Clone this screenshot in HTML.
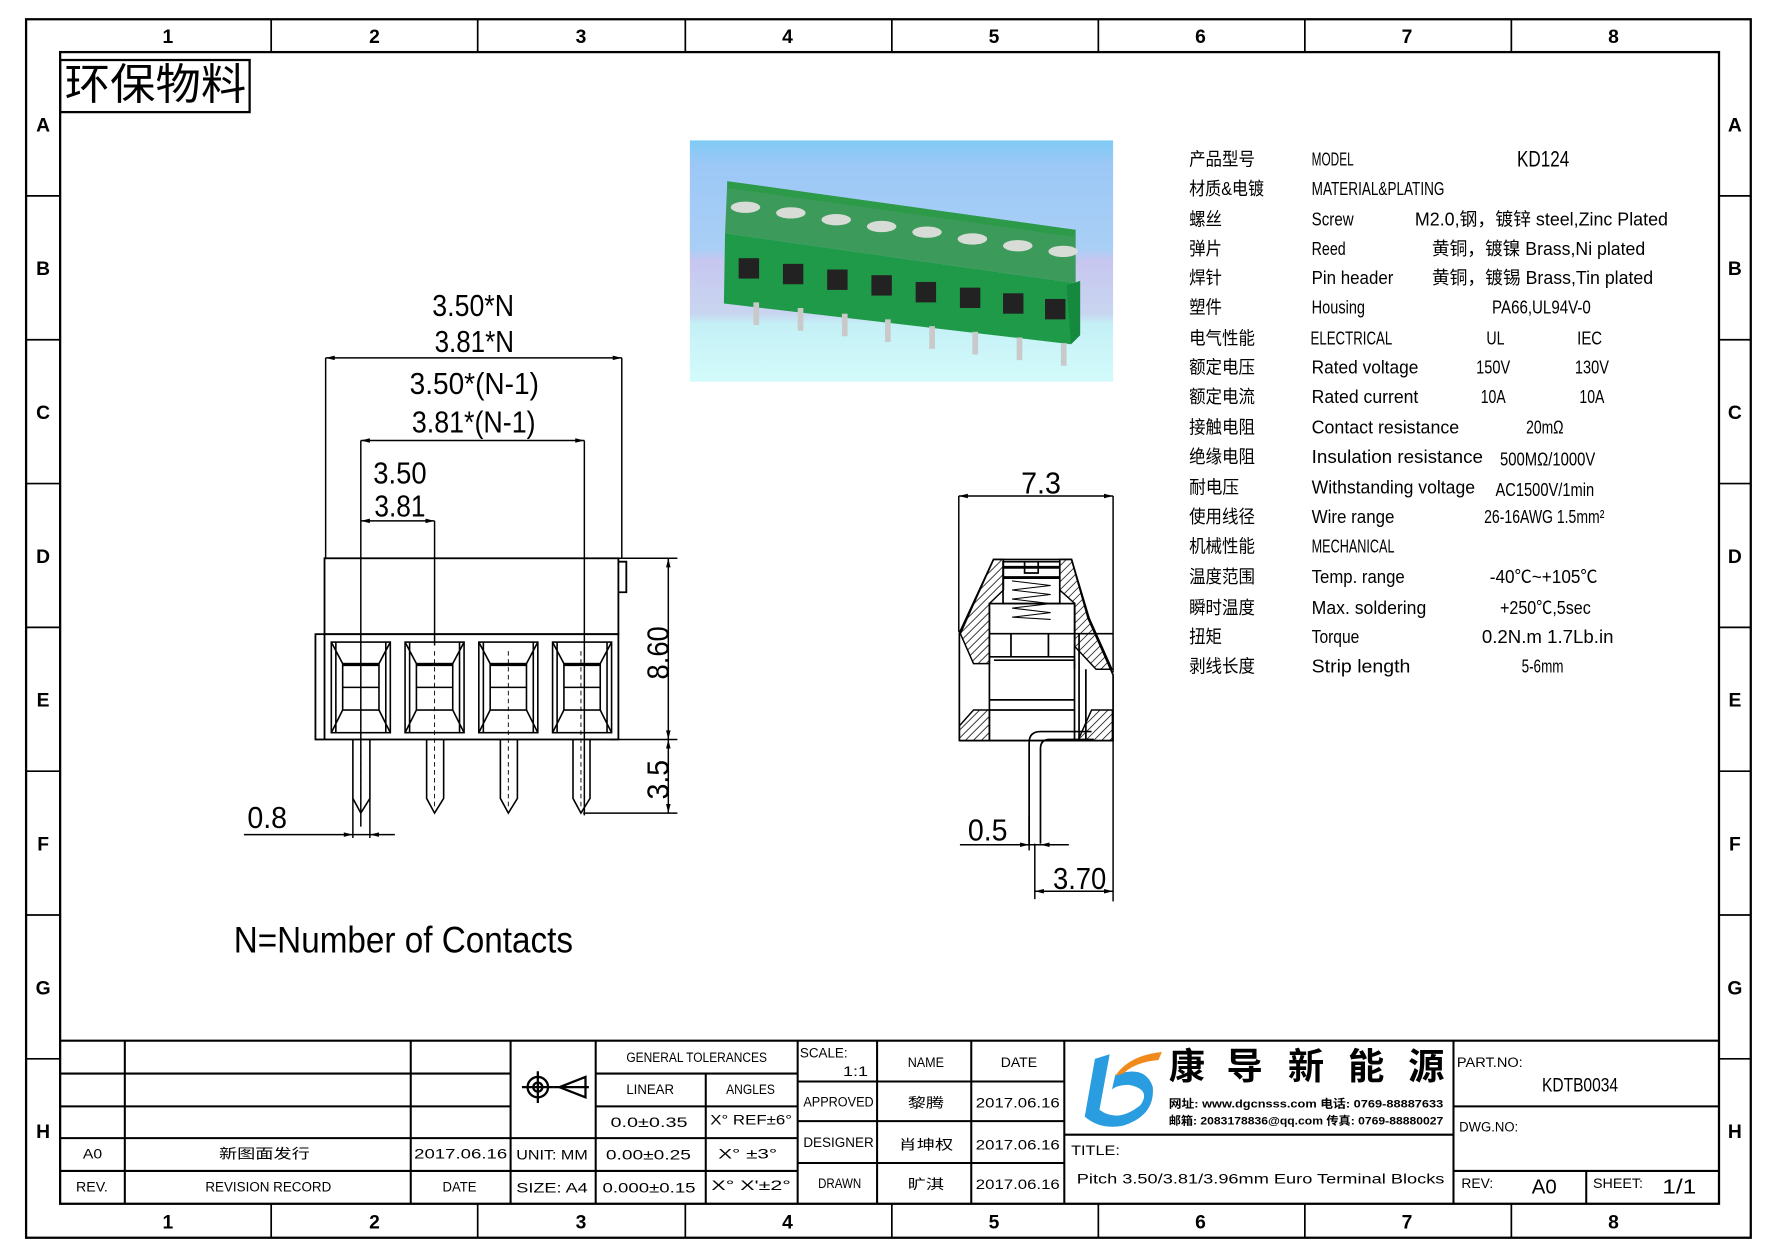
<!DOCTYPE html>
<html><head><meta charset="utf-8"><style>
html,body{margin:0;padding:0;background:#fff;}
svg{display:block;}
text{font-family:"Liberation Sans","Noto Sans CJK SC",sans-serif;fill:#000;}
.c{font-family:"Liberation Serif","Noto Sans CJK SC",serif;}
.g{font-weight:bold;font-size:17px;text-anchor:middle;}
</style></head><body>
<svg width="1778" height="1257" viewBox="0 0 1567 1110" preserveAspectRatio="none" xmlns="http://www.w3.org/2000/svg">
<defs>
<pattern id="h" width="5" height="5" patternUnits="userSpaceOnUse" patternTransform="rotate(45)">
<line x1="0" y1="0" x2="0" y2="5" stroke="#000" stroke-width="1.3"/></pattern>
<linearGradient id="bg" x1="0" y1="0" x2="0" y2="1">
<stop offset="0" stop-color="#7fcaf5"/><stop offset="0.1" stop-color="#9cc8f6"/><stop offset="0.45" stop-color="#a9cff5"/>
<stop offset="0.5" stop-color="#c7c6f0"/><stop offset="0.72" stop-color="#c9d6f0"/><stop offset="0.76" stop-color="#c4f0f6"/><stop offset="1" stop-color="#d3fbfb"/></linearGradient>
</defs>
<rect width="1567" height="1110" fill="#fff"/>
<rect x="23" y="17" width="1520" height="1076" fill="none" stroke="#000" stroke-width="2"/>
<rect x="53" y="46" width="1462" height="1017" fill="none" stroke="#000" stroke-width="2"/>
<g stroke="#000" stroke-width="1.5">
<line x1="239" y1="17" x2="239" y2="46"/><line x1="421" y1="17" x2="421" y2="46"/><line x1="604" y1="17" x2="604" y2="46"/><line x1="786" y1="17" x2="786" y2="46"/><line x1="968" y1="17" x2="968" y2="46"/><line x1="1150" y1="17" x2="1150" y2="46"/><line x1="1332" y1="17" x2="1332" y2="46"/>
<line x1="239" y1="1063" x2="239" y2="1093"/><line x1="421" y1="1063" x2="421" y2="1093"/><line x1="604" y1="1063" x2="604" y2="1093"/><line x1="786" y1="1063" x2="786" y2="1093"/><line x1="968" y1="1063" x2="968" y2="1093"/><line x1="1150" y1="1063" x2="1150" y2="1093"/><line x1="1332" y1="1063" x2="1332" y2="1093"/>
<path d="M23 173H53M23 300H53M23 427H53M23 554H53M23 681H53M23 808H53M23 935H53M1515 173H1543M1515 300H1543M1515 427H1543M1515 554H1543M1515 681H1543M1515 808H1543M1515 935H1543"/>
</g>
<g class="g">
<text x="148" y="38">1</text><text x="330" y="38">2</text><text x="512" y="38">3</text><text x="694" y="38">4</text><text x="876" y="38">5</text><text x="1058" y="38">6</text><text x="1240" y="38">7</text><text x="1422" y="38">8</text>
<text x="148" y="1085">1</text><text x="330" y="1085">2</text><text x="512" y="1085">3</text><text x="694" y="1085">4</text><text x="876" y="1085">5</text><text x="1058" y="1085">6</text><text x="1240" y="1085">7</text><text x="1422" y="1085">8</text>
<text x="38" y="116">A</text><text x="38" y="243">B</text><text x="38" y="370">C</text><text x="38" y="497">D</text><text x="38" y="624">E</text><text x="38" y="751">F</text><text x="38" y="878">G</text><text x="38" y="1005">H</text>
<text x="1529" y="116">A</text><text x="1529" y="243">B</text><text x="1529" y="370">C</text><text x="1529" y="497">D</text><text x="1529" y="624">E</text><text x="1529" y="751">F</text><text x="1529" y="878">G</text><text x="1529" y="1005">H</text>
</g>
<rect x="53" y="53" width="167" height="46" fill="none" stroke="#000" stroke-width="2"/>
<text x="57" y="88" font-size="38" textLength="160" lengthAdjust="spacingAndGlyphs" class="c">环保物料</text>

<rect x="608" y="124" width="373" height="213" fill="url(#bg)"/>
<polygon points="641,160 948,203 948,250 639,206" fill="#3c9a5a"/>
<polygon points="641,160 948,203 946,209 641,166" fill="#2c9a48"/>
<polygon points="639,206 948,250 944,304 638,268" fill="#1f9a48"/>
<polygon points="940,252 952,248 952,296 944,304" fill="#158a3e"/>
<g fill="#d8dcd6">
<ellipse cx="657" cy="183" rx="13" ry="5"/><ellipse cx="697" cy="188" rx="13" ry="5"/><ellipse cx="737" cy="194" rx="13" ry="5"/><ellipse cx="777" cy="200" rx="13" ry="5"/><ellipse cx="817" cy="205" rx="13" ry="5"/><ellipse cx="857" cy="211" rx="13" ry="5"/><ellipse cx="897" cy="217" rx="13" ry="5"/><ellipse cx="937" cy="222" rx="13" ry="5"/>
</g>
<g fill="#222">
<rect x="651" y="228" width="18" height="18"/><rect x="690" y="233" width="18" height="18"/><rect x="729" y="238" width="18" height="18"/><rect x="768" y="243" width="18" height="18"/><rect x="807" y="249" width="18" height="18"/><rect x="846" y="254" width="18" height="18"/><rect x="884" y="259" width="18" height="18"/><rect x="921" y="264" width="18" height="18"/>
</g>
<g fill="#c9c9c9">
<rect x="703" y="272" width="5" height="20"/><rect x="742" y="277" width="5" height="20"/><rect x="780" y="282" width="5" height="20"/><rect x="819" y="288" width="5" height="20"/><rect x="857" y="293" width="5" height="20"/><rect x="896" y="298" width="5" height="20"/><rect x="935" y="303" width="5" height="20"/><rect x="664" y="267" width="5" height="20"/>
</g>

<g font-size="16">
<g class="c">
<text x="1048" y="146" textLength="58" lengthAdjust="spacingAndGlyphs">产品型号</text>
<text x="1048" y="172" textLength="66" lengthAdjust="spacingAndGlyphs">材质&amp;电镀</text>
<text x="1048" y="199" textLength="29" lengthAdjust="spacingAndGlyphs">螺丝</text>
<text x="1048" y="225" textLength="29" lengthAdjust="spacingAndGlyphs">弹片</text>
<text x="1048" y="251" textLength="29" lengthAdjust="spacingAndGlyphs">焊针</text>
<text x="1048" y="277" textLength="29" lengthAdjust="spacingAndGlyphs">塑件</text>
<text x="1048" y="304" textLength="58" lengthAdjust="spacingAndGlyphs">电气性能</text>
<text x="1048" y="330" textLength="58" lengthAdjust="spacingAndGlyphs">额定电压</text>
<text x="1048" y="356" textLength="58" lengthAdjust="spacingAndGlyphs">额定电流</text>
<text x="1048" y="383" textLength="58" lengthAdjust="spacingAndGlyphs">接触电阻</text>
<text x="1048" y="409" textLength="58" lengthAdjust="spacingAndGlyphs">绝缘电阻</text>
<text x="1048" y="436" textLength="44" lengthAdjust="spacingAndGlyphs">耐电压</text>
<text x="1048" y="462" textLength="58" lengthAdjust="spacingAndGlyphs">使用线径</text>
<text x="1048" y="488" textLength="58" lengthAdjust="spacingAndGlyphs">机械性能</text>
<text x="1048" y="515" textLength="58" lengthAdjust="spacingAndGlyphs">温度范围</text>
<text x="1048" y="542" textLength="58" lengthAdjust="spacingAndGlyphs">瞬时温度</text>
<text x="1048" y="568" textLength="29" lengthAdjust="spacingAndGlyphs">扭矩</text>
<text x="1048" y="594" textLength="58" lengthAdjust="spacingAndGlyphs">剥线长度</text>
</g>
<g class="c">
<text x="1156" y="146" textLength="37" lengthAdjust="spacingAndGlyphs">MODEL</text>
<text x="1156" y="172" textLength="117" lengthAdjust="spacingAndGlyphs">MATERIAL&amp;PLATING</text>
<text x="1156" y="199" textLength="37" lengthAdjust="spacingAndGlyphs">Screw</text>
<text x="1156" y="225" textLength="30" lengthAdjust="spacingAndGlyphs">Reed</text>
<text x="1156" y="251" textLength="72" lengthAdjust="spacingAndGlyphs">Pin header</text>
<text x="1156" y="277" textLength="47" lengthAdjust="spacingAndGlyphs">Housing</text>
<text x="1155" y="304" textLength="72" lengthAdjust="spacingAndGlyphs">ELECTRICAL</text>
<text x="1156" y="330" textLength="94" lengthAdjust="spacingAndGlyphs">Rated voltage</text>
<text x="1156" y="356" textLength="94" lengthAdjust="spacingAndGlyphs">Rated current</text>
<text x="1156" y="383" textLength="130" lengthAdjust="spacingAndGlyphs">Contact resistance</text>
<text x="1156" y="409" textLength="151" lengthAdjust="spacingAndGlyphs">Insulation resistance</text>
<text x="1156" y="436" textLength="144" lengthAdjust="spacingAndGlyphs">Withstanding voltage</text>
<text x="1156" y="462" textLength="73" lengthAdjust="spacingAndGlyphs">Wire range</text>
<text x="1156" y="488" textLength="73" lengthAdjust="spacingAndGlyphs">MECHANICAL</text>
<text x="1156" y="515" textLength="82" lengthAdjust="spacingAndGlyphs">Temp. range</text>
<text x="1156" y="542" textLength="101" lengthAdjust="spacingAndGlyphs">Max. soldering</text>
<text x="1156" y="568" textLength="42" lengthAdjust="spacingAndGlyphs">Torque</text>
<text x="1156" y="594" textLength="87" lengthAdjust="spacingAndGlyphs">Strip length</text>
<text x="1337" y="147" font-size="20" textLength="46" lengthAdjust="spacingAndGlyphs">KD124</text>
<text x="1247" y="199" textLength="223" lengthAdjust="spacingAndGlyphs">M2.0,钢，镀锌 steel,Zinc Plated</text>
<text x="1262" y="225" textLength="188" lengthAdjust="spacingAndGlyphs">黄铜，镀镍 Brass,Ni plated</text>
<text x="1262" y="251" textLength="195" lengthAdjust="spacingAndGlyphs">黄铜，镀锡 Brass,Tin plated</text>
<text x="1315" y="277" textLength="87" lengthAdjust="spacingAndGlyphs">PA66,UL94V-0</text>
<text x="1310" y="304" textLength="16" lengthAdjust="spacingAndGlyphs">UL</text>
<text x="1390" y="304" textLength="22" lengthAdjust="spacingAndGlyphs">IEC</text>
<text x="1301" y="330" textLength="30" lengthAdjust="spacingAndGlyphs">150V</text>
<text x="1388" y="330" textLength="30" lengthAdjust="spacingAndGlyphs">130V</text>
<text x="1305" y="356" textLength="22" lengthAdjust="spacingAndGlyphs">10A</text>
<text x="1392" y="356" textLength="22" lengthAdjust="spacingAndGlyphs">10A</text>
<text x="1345" y="383" textLength="33" lengthAdjust="spacingAndGlyphs">20mΩ</text>
<text x="1322" y="411" textLength="84" lengthAdjust="spacingAndGlyphs">500MΩ/1000V</text>
<text x="1318" y="438" textLength="87" lengthAdjust="spacingAndGlyphs">AC1500V/1min</text>
<text x="1308" y="462" textLength="106" lengthAdjust="spacingAndGlyphs">26-16AWG 1.5mm²</text>
<text x="1313" y="515" textLength="95" lengthAdjust="spacingAndGlyphs">-40℃~+105℃</text>
<text x="1322" y="542" textLength="80" lengthAdjust="spacingAndGlyphs">+250℃,5sec</text>
<text x="1306" y="568" textLength="116" lengthAdjust="spacingAndGlyphs">0.2N.m  1.7Lb.in</text>
<text x="1341" y="594" textLength="37" lengthAdjust="spacingAndGlyphs">5-6mm</text>
</g>
</g>

<g stroke="#000" fill="none">
<g stroke-width="1.6">
<rect x="286" y="493" width="259" height="67"/>
<rect x="278" y="560" width="267" height="93"/>
<line x1="286" y1="560" x2="286" y2="653"/>
<polyline points="545,496 552,496 552,523 545,523"/>
</g>
<g stroke-width="1.3">
<line x1="287" y1="316" x2="287" y2="493"/><line x1="548" y1="316" x2="548" y2="493"/>
<line x1="318" y1="389" x2="318" y2="730"/><line x1="515" y1="389" x2="515" y2="720"/>
<line x1="383" y1="460" x2="383" y2="570"/>
<line x1="287" y1="316" x2="548" y2="316"/><line x1="318" y1="389" x2="515" y2="389"/><line x1="318" y1="460" x2="383" y2="460"/>
<line x1="545" y1="493" x2="597" y2="493"/><line x1="538" y1="653" x2="597" y2="653"/><line x1="514" y1="718" x2="597" y2="718"/>
<line x1="589" y1="493" x2="589" y2="718"/>
<line x1="215" y1="737" x2="348" y2="737"/>
<line x1="311" y1="705" x2="311" y2="740"/><line x1="326" y1="705" x2="326" y2="740"/>
</g>
</g>
<g fill="#000">
<path d="M287 316l8 -2v4zM548 316l-8 -2v4zM318 389l8 -2v4zM515 389l-8 -2v4zM318 460l8 -2v4zM383 460l-8 -2v4zM589 493l-2 8h4zM589 653l-2 -8h4zM589 653l-2 8h4zM589 718l-2 -8h4zM311 737l-8 -2v4zM326 737l8 -2v4z"/>
</g>
<g stroke="#000" fill="none" stroke-width="1.4">
<g id="w">
<rect x="292" y="567" width="52" height="80"/>
<rect x="302" y="586" width="32" height="41"/>
<path d="M292 567L302 586M344 567L334 586M292 647L302 627M344 647L334 627M296 567V647M340 567V647M302 607H334"/>
<line x1="302" y1="587" x2="334" y2="587" stroke-width="2.5"/>
</g>
<use href="#w" x="65"/><use href="#w" x="130"/><use href="#w" x="195"/>
</g>
<g stroke="#000" fill="none" stroke-width="1.4">
<path d="M311 653V705L318 718L326 705V653"/>
<path d="M376 653V705L383 718L391 705V653"/>
<path d="M441 653V705L448 718L456 705V653"/>
<path d="M505 653V705L512 718L520 705V653"/>
<g stroke-dasharray="4,3" stroke-width="0.8"><line x1="318" y1="575" x2="318" y2="715"/><line x1="383" y1="575" x2="383" y2="715"/><line x1="448" y1="575" x2="448" y2="715"/><line x1="512" y1="575" x2="512" y2="715"/></g>
</g>
<g class="c" font-size="27">
<text x="381" y="279" textLength="72" lengthAdjust="spacingAndGlyphs">3.50*N</text>
<text x="383" y="311" textLength="70" lengthAdjust="spacingAndGlyphs">3.81*N</text>
<text x="361" y="348" textLength="114" lengthAdjust="spacingAndGlyphs">3.50*(N-1)</text>
<text x="363" y="382" textLength="109" lengthAdjust="spacingAndGlyphs">3.81*(N-1)</text>
<text x="329" y="427" textLength="47" lengthAdjust="spacingAndGlyphs">3.50</text>
<text x="330" y="456" textLength="45" lengthAdjust="spacingAndGlyphs">3.81</text>
<text x="218" y="731" textLength="35" lengthAdjust="spacingAndGlyphs">0.8</text>
<text transform="translate(589,600) rotate(-90)" textLength="47" lengthAdjust="spacingAndGlyphs">8.60</text>
<text transform="translate(589,706) rotate(-90)" textLength="35" lengthAdjust="spacingAndGlyphs">3.5</text>
<text x="206" y="841" font-size="33" textLength="299" lengthAdjust="spacingAndGlyphs">N=Number of Contacts</text>
</g>

<g transform="translate(4,1)">
<g fill="url(#h)" stroke="#000" stroke-width="1.3">
<polygon points="871.6,493 880.4,493 880.4,520 868,532 868,585 854,585 842.4,558.6"/>
<polygon points="854,626 868,626 868,653 841.5,653 841.5,640"/>
<polygon points="930,493 940.4,493 956,545 976,590 962,590 943.3,570 943.3,532 930,520"/>
<polygon points="958,626 976.4,626 976.4,653 946,653"/>
</g>
<g stroke="#000" fill="none" stroke-width="1.5">
<polyline points="841.5,653 841.5,558 871.6,493 940.4,493 955,545 977,595 977,653 841.5,653"/>
<rect x="868" y="532" width="75" height="121"/>
<rect x="880" y="495" width="50" height="37"/>
<path d="M880 500H930M880 509H930" stroke-width="2.5"/>
<path d="M899 495V505H911V495"/>
<path d="M888 512L922 516L888 520L922 524L888 528L922 532L888 536L922 540L888 544L922 546" stroke-width="0.9"/>
<path d="M868 558.6H977M868 579H943M868 617H943M868 626H943M887 558V579M920 558V579M872 582H943V590"/>
<path d="M903 744V655Q903 645 913 645H958M913 744V660Q913 652 921 652H960M947 558V653M953 590V653"/>
<line x1="841" y1="437" x2="841" y2="557" stroke-width="1.3"/>
<line x1="977" y1="437" x2="977" y2="593" stroke-width="1.3"/>
<line x1="841" y1="437" x2="977" y2="437" stroke-width="1.3"/>
<line x1="842" y1="745" x2="938" y2="745" stroke-width="1.3"/>
<line x1="977" y1="653" x2="977" y2="795" stroke-width="1.3"/>
<line x1="908" y1="744" x2="908" y2="793" stroke-width="1.3"/>
<line x1="908" y1="786" x2="977" y2="786" stroke-width="1.3"/>
<line x1="903" y1="720" x2="903" y2="750" stroke-width="1.3"/>
</g>
<g fill="#000"><path d="M841 437l8 -2v4zM977 437l-8 -2v4zM903 745l-8 -2v4zM913 745l8 -2v4zM908 786l8 -2v4zM977 786l-8 -2v4z"/></g>
<g class="c" font-size="27">
<text x="896" y="435" textLength="35" lengthAdjust="spacingAndGlyphs">7.3</text>
<text x="849" y="741" textLength="35" lengthAdjust="spacingAndGlyphs">0.5</text>
<text x="924" y="784" textLength="47" lengthAdjust="spacingAndGlyphs">3.70</text>
</g>
</g>

<g stroke="#000" fill="none" stroke-width="1.8">
<line x1="53" y1="919" x2="1515" y2="919"/>
<path d="M53 948H450M53 977H450M53 1005H450M53 1034H450"/>
<path d="M110 919V1063M362 919V1063M450 919V1063M525 919V1063M703 919V1063M773 919V1063M856 919V1063M938 919V1063M1281 919V1063"/>
<path d="M450 1005H703M450 1034H703M525 948H703M525 977H703M622 948V1063"/>
<path d="M703 955H938M703 990H938M703 1027H938"/>
<path d="M938 1002H1281M1281 977H1515M1281 1034H1515M1398 1034V1063"/>
</g>
<g stroke="#000" fill="none" stroke-width="2">
<circle cx="474" cy="960" r="9"/><circle cx="474" cy="960" r="4"/><path d="M460 960H488M474 946V974M493 960L516 951V969Z"/><path d="M488 960H519"/>
</g>
<g class="c" font-size="12">
<text x="552" y="938" textLength="124" lengthAdjust="spacingAndGlyphs">GENERAL TOLERANCES</text>
<text x="552" y="966" textLength="42" lengthAdjust="spacingAndGlyphs">LINEAR</text>
<text x="640" y="966" textLength="43" lengthAdjust="spacingAndGlyphs">ANGLES</text>
<text x="538" y="995" textLength="68" lengthAdjust="spacingAndGlyphs">0.0±0.35</text>
<text x="626" y="993" textLength="72" lengthAdjust="spacingAndGlyphs">X° REF±6°</text>
<text x="534" y="1024" textLength="75" lengthAdjust="spacingAndGlyphs">0.00±0.25</text>
<text x="633" y="1023" textLength="52" lengthAdjust="spacingAndGlyphs">X° ±3°</text>
<text x="531" y="1053" textLength="82" lengthAdjust="spacingAndGlyphs">0.000±0.15</text>
<text x="627" y="1051" textLength="70" lengthAdjust="spacingAndGlyphs">X° X'±2°</text>
<text x="455" y="1024" textLength="63" lengthAdjust="spacingAndGlyphs">UNIT: MM</text>
<text x="455" y="1053" textLength="63" lengthAdjust="spacingAndGlyphs">SIZE: A4</text>
<text x="73" y="1023" textLength="17" lengthAdjust="spacingAndGlyphs">A0</text>
<text x="67" y="1052" textLength="28" lengthAdjust="spacingAndGlyphs">REV.</text>
<text x="193" y="1023" textLength="80" lengthAdjust="spacingAndGlyphs">新图面发行</text>
<text x="181" y="1052" textLength="111" lengthAdjust="spacingAndGlyphs">REVISION RECORD</text>
<text x="365" y="1023" textLength="82" lengthAdjust="spacingAndGlyphs">2017.06.16</text>
<text x="390" y="1052" textLength="30" lengthAdjust="spacingAndGlyphs">DATE</text>
<text x="705" y="934" textLength="42" lengthAdjust="spacingAndGlyphs">SCALE:</text>
<text x="743" y="950" textLength="22" lengthAdjust="spacingAndGlyphs">1:1</text>
<text x="800" y="942" textLength="32" lengthAdjust="spacingAndGlyphs">NAME</text>
<text x="882" y="942" textLength="32" lengthAdjust="spacingAndGlyphs">DATE</text>
<text x="708" y="977" textLength="62" lengthAdjust="spacingAndGlyphs">APPROVED</text>
<text x="708" y="1013" textLength="62" lengthAdjust="spacingAndGlyphs">DESIGNER</text>
<text x="721" y="1049" textLength="38" lengthAdjust="spacingAndGlyphs">DRAWN</text>
<text x="800" y="978" textLength="32" lengthAdjust="spacingAndGlyphs">黎腾</text>
<text x="792" y="1015" textLength="48" lengthAdjust="spacingAndGlyphs">肖坤权</text>
<text x="800" y="1050" textLength="32" lengthAdjust="spacingAndGlyphs">旷淇</text>
<text x="860" y="978" textLength="74" lengthAdjust="spacingAndGlyphs">2017.06.16</text>
<text x="860" y="1015" textLength="74" lengthAdjust="spacingAndGlyphs">2017.06.16</text>
<text x="860" y="1050" textLength="74" lengthAdjust="spacingAndGlyphs">2017.06.16</text>
<text x="944" y="1020" textLength="43" lengthAdjust="spacingAndGlyphs">TITLE:</text>
<text x="949" y="1045" textLength="324" lengthAdjust="spacingAndGlyphs">Pitch 3.50/3.81/3.96mm Euro Terminal Blocks</text>
<text x="1284" y="942" textLength="58" lengthAdjust="spacingAndGlyphs">PART.NO:</text>
<text x="1359" y="964" font-size="17" textLength="67" lengthAdjust="spacingAndGlyphs">KDTB0034</text>
<text x="1286" y="999" textLength="52" lengthAdjust="spacingAndGlyphs">DWG.NO:</text>
<text x="1288" y="1049" textLength="28" lengthAdjust="spacingAndGlyphs">REV:</text>
<text x="1350" y="1054" font-size="18" textLength="22" lengthAdjust="spacingAndGlyphs">A0</text>
<text x="1404" y="1049" textLength="44" lengthAdjust="spacingAndGlyphs">SHEET:</text>
<text x="1465" y="1054" font-size="18" textLength="30" lengthAdjust="spacingAndGlyphs">1/1</text>
</g>
<path d="M965 935L978 931L969 980Q985 992 1005 976Q1015 962 995 958Q985 958 980 962L983 949Q1010 940 1016 960Q1018 985 990 994Q970 998 956 986Z" fill="#2a9de0"/>
<path d="M983 950Q995 932 1024 929L1021 936Q1000 938 990 948Z" fill="#f08a1c"/>
<g font-size="32" font-weight="bold">
<text x="1030" y="953">康</text><text x="1081" y="953">导</text><text x="1135" y="953">新</text><text x="1188" y="953">能</text><text x="1241" y="953">源</text>
</g>
<g font-size="10" font-weight="bold">
<text x="1030" y="978" textLength="242" lengthAdjust="spacingAndGlyphs">网址: www.dgcnsss.com   电话: 0769-88887633</text>
<text x="1030" y="993" textLength="242" lengthAdjust="spacingAndGlyphs">邮箱: 2083178836@qq.com 传真: 0769-88880027</text>
</g>
</svg>
</body></html>
